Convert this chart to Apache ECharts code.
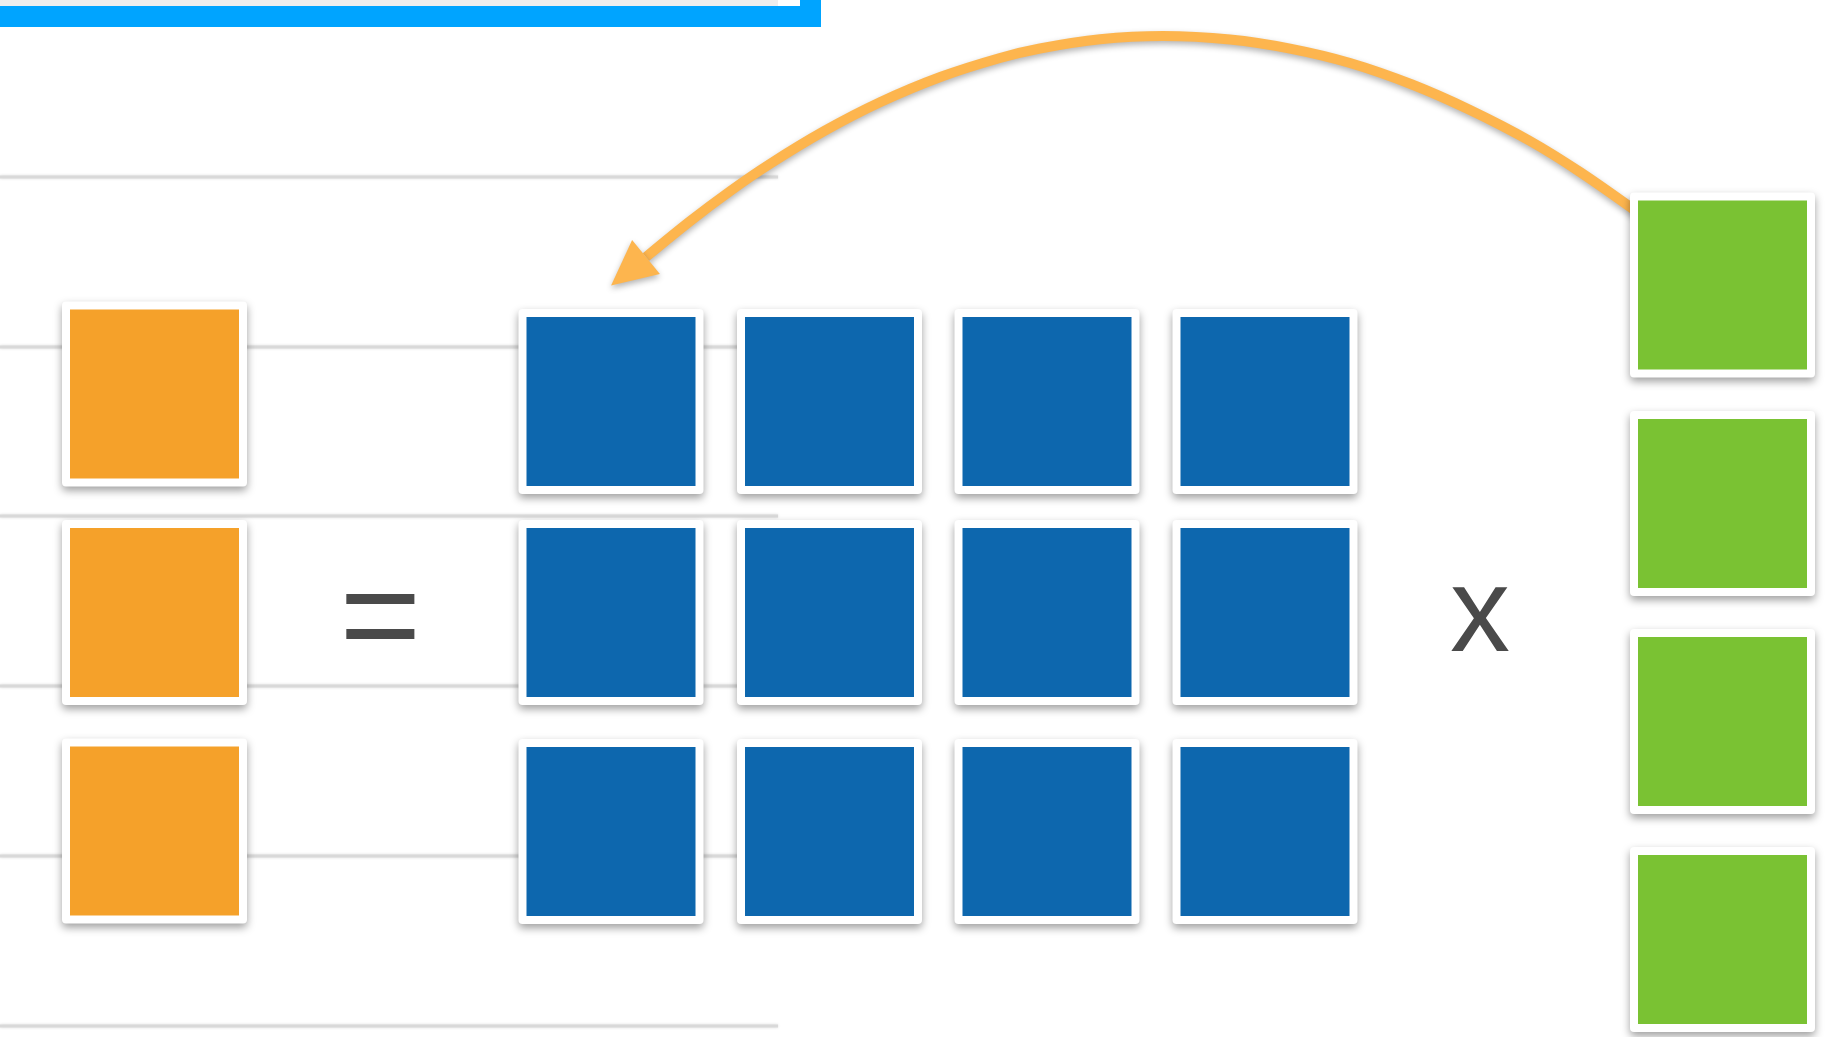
<!DOCTYPE html>
<html><head><meta charset="utf-8">
<script src="https://cdn.jsdelivr.net/npm/echarts@6/dist/echarts.min.js"></script>
<style>html,body{margin:0;padding:0;background:#fff;overflow:hidden;}#c{width:1845px;height:1037px;}</style>
</head><body><div id="c"></div>
<script>
// ---- values (axis units = picture pixels) ----
const outputColX = [154.5];
const outputRowY = [394, 612.5, 831];
const matrixColX = [611, 829.5, 1047, 1265];
const matrixRowY = [401.5, 612.5, 831.5];
const inputColX = [1722.5];
const inputRowY = [285, 503.5, 721.5, 939.5];
const cellSize = [169];
const guideLineY = [177, 347, 516, 686, 856, 1026];
const guideLineX = [0, 778];
const operatorLabels = ['=', 'x'];
const operatorX = [380.5, 1480];
const operatorY = [623, 618];
const arcX = [1640, 1580, 1530, 1470, 1412, 1350, 1290, 1230, 1163, 1100, 1040, 1000, 941, 880, 824, 770, 730, 690, 646];
const arcY = [214, 172, 141, 110, 84.5, 63, 48.6, 39.5, 36, 39.3, 48.5, 58, 76.8, 102.3, 131.2, 163.9, 191.2, 221.2, 257];
const headerStripX = [0, 778];
const headerStripY = [0, 6];
const headerBarX = [0, 821];
const headerBarY = [6, 27];
const headerTabX = [800, 821];
const headerTabY = [0, 6];

// ---- styles ----
const C_ORANGE = '#F5A12A', C_BLUE = '#0D67AE', C_GREEN = '#7AC233';
const C_ARROW = '#FDB54E', C_OP = '#4A4A4A', C_HEADER = '#00A4FF';

function cells(xs, ys) {
  const out = [];
  ys.forEach(y => xs.forEach(x => out.push([x, y])));
  return out;
}

function cardRenderer(color) {
  return function (params, api) {
    const c = api.coord([api.value(0), api.value(1)]);
    const s = api.size([cellSize[0], cellSize[0]]);
    const w = s[0], h = s[1], pad = 8;
    return {
      type: 'group',
      children: [
        { type: 'rect', shape: { x: c[0] - w / 2 - pad, y: c[1] - h / 2 - pad, width: w + 2 * pad, height: h + 2 * pad, r: 4 },
          style: { fill: '#fff', shadowBlur: 9, shadowOffsetY: 4, shadowColor: 'rgba(0,0,0,0.38)' } },
        { type: 'rect', shape: { x: c[0] - w / 2, y: c[1] - h / 2, width: w, height: h },
          style: { fill: color } }
      ]
    };
  };
}

function rectBetween(api, xs, ys, fill) {
  const a = api.coord([xs[0], ys[0]]), b = api.coord([xs[1], ys[1]]);
  return { type: 'rect', shape: { x: a[0], y: a[1], width: b[0] - a[0], height: b[1] - a[1] }, style: { fill } };
}

const chart = echarts.init(document.getElementById('c'), null, { renderer: 'canvas' });
chart.setOption({
  animation: false,
  backgroundColor: '#ffffff',
  grid: { left: 0, right: 0, top: 0, bottom: 0 },
  xAxis: { type: 'value', min: 0, max: 1845, show: false },
  yAxis: { type: 'value', min: 0, max: 1037, inverse: true, show: false },
  series: [
    { // header bar
      type: 'custom', z: 1, data: [[0, 0]],
      renderItem: (p, api) => ({ type: 'group', children: [
        rectBetween(api, headerStripX, headerStripY, '#EEEEEE'),
        rectBetween(api, headerBarX, headerBarY, C_HEADER),
        rectBetween(api, headerTabX, headerTabY, C_HEADER)
      ]})
    },
    { // guide lines
      type: 'custom', z: 1, data: guideLineY.map(y => [y]),
      renderItem: (p, api) => {
        const a = api.coord([guideLineX[0], api.value(0)]), b = api.coord([guideLineX[1], api.value(0)]);
        return { type: 'line', shape: { x1: a[0], y1: a[1], x2: b[0], y2: b[1] },
          style: { stroke: '#D9D9D9', lineWidth: 3, shadowBlur: 3, shadowColor: 'rgba(0,0,0,0.15)' } };
      }
    },
    { // curved arrow shaft
      type: 'line', z: 2, smooth: 0.35, showSymbol: false, silent: true,
      data: arcX.map((x, i) => [x, arcY[i]]),
      lineStyle: { color: C_ARROW, width: 10, cap: 'butt', shadowBlur: 6, shadowOffsetY: 3, shadowColor: 'rgba(0,0,0,0.3)' }
    },
    { // arrow head
      type: 'custom', z: 3, data: [[arcX[arcX.length - 1], arcY[arcY.length - 1]]],
      renderItem: (p, api) => {
        const n = arcX.length;
        const base = api.coord([arcX[n - 1], arcY[n - 1]]);
        const prev = api.coord([arcX[n - 2], arcY[n - 2]]);
        let dx = base[0] - prev[0], dy = base[1] - prev[1];
        const L = Math.hypot(dx, dy); dx /= L; dy /= L;
        const len = 45, half = 22;
        const tip = [base[0] + dx * len, base[1] + dy * len];
        const c1 = [base[0] - dy * half, base[1] + dx * half];
        const c2 = [base[0] + dy * half, base[1] - dx * half];
        return { type: 'polygon', shape: { points: [tip, c1, c2] },
          style: { fill: C_ARROW, shadowBlur: 6, shadowOffsetY: 3, shadowColor: 'rgba(0,0,0,0.3)' } };
      }
    },
    { type: 'custom', z: 5, data: cells(outputColX, outputRowY), renderItem: cardRenderer(C_ORANGE) },
    { type: 'custom', z: 5, data: cells(matrixColX, matrixRowY), renderItem: cardRenderer(C_BLUE) },
    { type: 'custom', z: 5, data: cells(inputColX, inputRowY), renderItem: cardRenderer(C_GREEN) },
    { // operators
      type: 'custom', z: 6, data: operatorLabels.map((t, i) => [operatorX[i], operatorY[i], t]),
      renderItem: (p, api) => {
        const c = api.coord([api.value(0), api.value(1)]);
        const label = operatorLabels[p.dataIndex];
        return { type: 'text', style: { text: label, x: c[0], y: c[1], fill: C_OP,
          font: (label === '=' ? '140px' : '120px') + ' "Liberation Sans", Arial, sans-serif',
          align: 'center', verticalAlign: 'middle', textAlign: 'center', textVerticalAlign: 'middle' } };
      }
    }
  ]
});
</script>
</body></html>
